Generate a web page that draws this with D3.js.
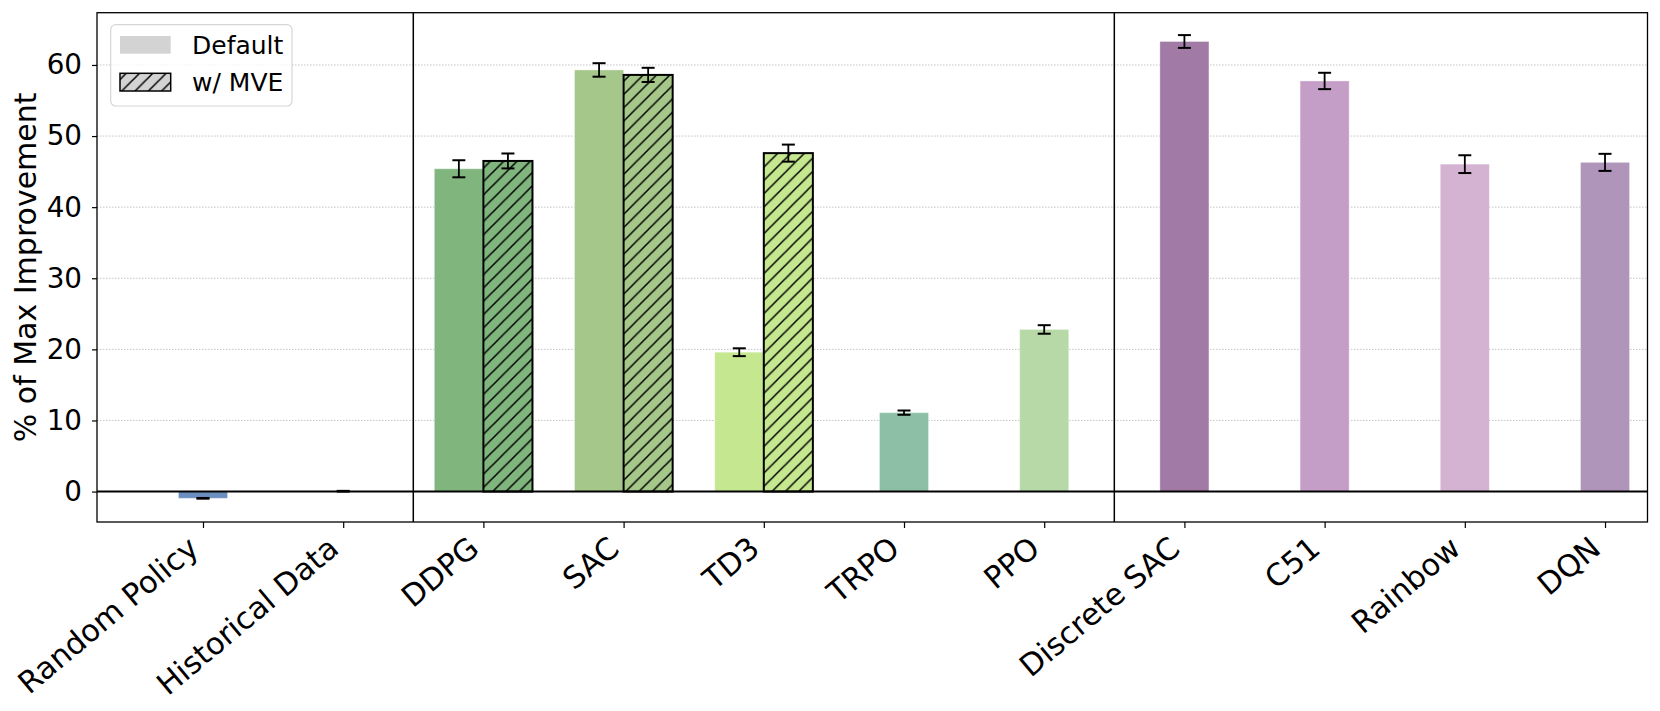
<!DOCTYPE html>
<html>
<head>
<meta charset="utf-8">
<script src="https://cdn.jsdelivr.net/npm/d3@7"></script>
<style>
  html, body { margin: 0; padding: 0; background: #fff; }
  svg { display: block; font-family: "DejaVu Sans", sans-serif; }
</style>
</head>
<body>
<svg id="chart" width="1660" height="711"></svg>
<script>
// ---- data ----
const categories = ["Random Policy", "Historical Data", "DDPG", "SAC", "TD3", "TRPO", "PPO", "Discrete SAC", "C51", "Rainbow", "DQN"];
const defaultValues = [-0.95, 0.05, 45.4, 59.3, 19.6, 11.1, 22.8, 63.3, 57.75, 46.05, 46.3];
const defaultErrors = [0.05, 0.05, 1.2, 0.95, 0.55, 0.3, 0.6, 0.9, 1.15, 1.25, 1.2];
const mveValues = [null, null, 46.5, 58.6, 47.6, null, null, null, null, null, null];
const mveErrors = [null, null, 1.05, 1.0, 1.2, null, null, null, null, null, null];
const yTicks = [0, 10, 20, 30, 40, 50, 60];
const groupSeparators = [1.5, 6.5];
const legendLabels = ["Default", "w/ MVE"];

// ---- styles ----
const barColors = ["#6b8ec1", "#c8c8c8", "#80b67e", "#a6c78a", "#c5e78f", "#8dbfa6", "#b7d9a8", "#a17ba6", "#c49ec6", "#d4b2d1", "#b095bb"];
const legendColor = "#d3d3d3";

const W = 1660, H = 711;
const plot = { left: 97, right: 1647.5, top: 12.7, bottom: 522 };
const barWidth = 0.35;
const xTickFont = 30.5, yTickFont = 27.8, labelFont = 30, legendFont = 25;

const svg = d3.select("#chart");
const defs = svg.append("defs");

const x = d3.scaleLinear().domain([-0.756, 10.303]).range([plot.left, plot.right]);
const y = d3.scaleLinear().domain([-4.28, 67.35]).range([plot.bottom, plot.top]);
const bw = x(barWidth) - x(0);

// hatch patterns
function hatchPattern(id, color) {
  const s = 13.3;
  const p = defs.append("pattern")
    .attr("id", id)
    .attr("patternUnits", "userSpaceOnUse")
    .attr("width", s).attr("height", s);
  p.append("rect").attr("width", s).attr("height", s).attr("fill", color);
  p.append("path")
    .attr("d", `M0,${s} L${s},0 M${-s/4},${s/4} L${s/4},${-s/4} M${3*s/4},${5*s/4} L${5*s/4},${3*s/4}`)
    .attr("stroke", "#000").attr("stroke-width", 1.5).attr("fill", "none");
}
categories.forEach((c, i) => { if (mveValues[i] !== null) hatchPattern("hatch" + i, barColors[i]); });
hatchPattern("hatchLegend", legendColor);

// clip
defs.append("clipPath").attr("id", "plotClip").append("rect")
  .attr("x", plot.left).attr("y", plot.top)
  .attr("width", plot.right - plot.left).attr("height", plot.bottom - plot.top);

// grid
svg.append("g").selectAll("line").data(yTicks.filter(d => d !== 0)).join("line")
  .attr("x1", plot.left).attr("x2", plot.right)
  .attr("y1", d => y(d)).attr("y2", d => y(d))
  .attr("stroke", "#c4c4c4").attr("stroke-width", 1).attr("stroke-dasharray", "1.5,1.5");

const g = svg.append("g").attr("clip-path", "url(#plotClip)");

// default bars
const idx = d3.range(categories.length);
const defX = i => mveValues[i] !== null ? x(i) - bw : x(i) - bw / 2;
g.append("g").selectAll("rect").data(idx).join("rect")
  .attr("x", i => defX(i))
  .attr("y", i => y(Math.max(0, defaultValues[i])))
  .attr("width", bw)
  .attr("height", i => Math.abs(y(defaultValues[i]) - y(0)))
  .attr("fill", i => barColors[i])
  .attr("stroke", "rgba(255,255,255,0.35)").attr("stroke-width", 1);

// mve bars
const mveIdx = idx.filter(i => mveValues[i] !== null);
g.append("g").selectAll("rect").data(mveIdx).join("rect")
  .attr("x", i => x(i))
  .attr("y", i => y(Math.max(0, mveValues[i])))
  .attr("width", bw)
  .attr("height", i => Math.abs(y(mveValues[i]) - y(0)))
  .attr("fill", i => `url(#hatch${i})`)
  .attr("stroke", "#000").attr("stroke-width", 2);

// error bars
const errData = [];
idx.forEach(i => errData.push({ cx: defX(i) + bw / 2, v: defaultValues[i], e: defaultErrors[i] }));
mveIdx.forEach(i => errData.push({ cx: x(i) + bw / 2, v: mveValues[i], e: mveErrors[i] }));
const eg = svg.append("g").attr("stroke", "#000");
errData.forEach(d => {
  eg.append("line").attr("x1", d.cx).attr("x2", d.cx)
    .attr("y1", y(d.v - d.e)).attr("y2", y(d.v + d.e)).attr("stroke-width", 1.8);
  [d.v - d.e, d.v + d.e].forEach(c => {
    eg.append("line").attr("x1", d.cx - 6.5).attr("x2", d.cx + 6.5)
      .attr("y1", y(c)).attr("y2", y(c)).attr("stroke-width", 2);
  });
});

// zero line
svg.append("line").attr("x1", plot.left).attr("x2", plot.right)
  .attr("y1", y(0)).attr("y2", y(0)).attr("stroke", "#000").attr("stroke-width", 2);

// separators
svg.append("g").selectAll("line").data(groupSeparators).join("line")
  .attr("x1", d => x(d)).attr("x2", d => x(d))
  .attr("y1", plot.top).attr("y2", plot.bottom)
  .attr("stroke", "#000").attr("stroke-width", 1.5);

// frame
svg.append("rect").attr("x", plot.left).attr("y", plot.top)
  .attr("width", plot.right - plot.left).attr("height", plot.bottom - plot.top)
  .attr("fill", "none").attr("stroke", "#000").attr("stroke-width", 1.3);

// y axis
const yAxis = svg.append("g").attr("transform", `translate(${plot.left},0)`)
  .call(d3.axisLeft(y).tickValues(yTicks).tickSize(5).tickPadding(10).tickFormat(d3.format("d")));
yAxis.select(".domain").remove();
yAxis.selectAll("line").attr("stroke", "#000").attr("stroke-width", 1.2);
yAxis.selectAll("text").attr("font-size", yTickFont).attr("fill", "#000").attr("font-family", "DejaVu Sans");

// x axis
const xAxis = svg.append("g").attr("transform", `translate(0,${plot.bottom})`)
  .call(d3.axisBottom(x).tickValues(idx).tickSize(6).tickFormat(i => categories[i]));
xAxis.select(".domain").remove();
xAxis.selectAll("line").attr("stroke", "#000").attr("stroke-width", 1.2);
xAxis.selectAll("text")
  .attr("font-size", xTickFont).attr("fill", "#000").attr("font-family", "DejaVu Sans")
  .attr("text-anchor", "end")
  .attr("dy", 0).attr("y", 0).attr("x", 0)
  .attr("transform", "translate(-3,29.5) rotate(-40)");

// y label
svg.append("text")
  .attr("transform", `translate(35.5,${(plot.top + plot.bottom) / 2}) rotate(-90)`)
  .attr("text-anchor", "middle").attr("font-size", labelFont).attr("fill", "#000")
  .text("% of Max Improvement");

// legend
const lg = svg.append("g");
lg.append("rect").attr("x", 110.7).attr("y", 24.7).attr("width", 181.3).attr("height", 81.3)
  .attr("rx", 5).attr("fill", "#fff").attr("fill-opacity", 0.8)
  .attr("stroke", "#d6d6d6").attr("stroke-width", 1.2);
lg.append("rect").attr("x", 120).attr("y", 36).attr("width", 50.7).attr("height", 17.7)
  .attr("fill", legendColor);
lg.append("rect").attr("x", 120).attr("y", 73.3).attr("width", 50.7).attr("height", 17.7)
  .attr("fill", "url(#hatchLegend)").attr("stroke", "#000").attr("stroke-width", 1.5);
lg.selectAll("text").data(legendLabels).join("text")
  .attr("x", 192).attr("y", (d, i) => i === 0 ? 54 : 91)
  .attr("font-size", legendFont).attr("fill", "#000").text(d => d);
</script>
</body>
</html>
